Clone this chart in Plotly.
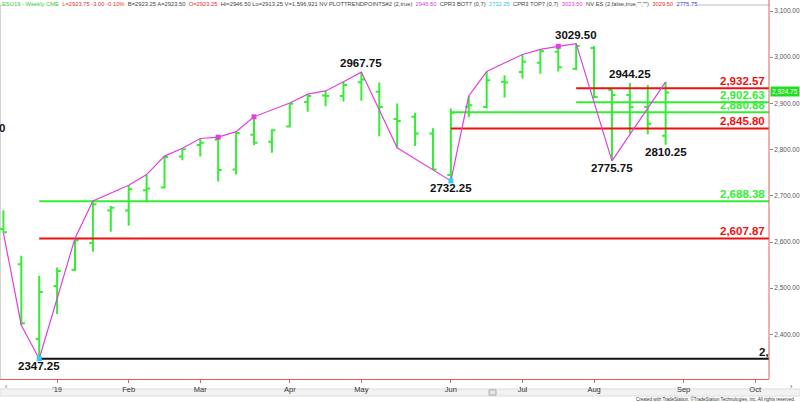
import plotly.graph_objects as go

# ---------------- data ----------------
dates = ["2018-12-14", "2018-12-21", "2018-12-28", "2019-01-04", "2019-01-11", "2019-01-18",
         "2019-01-25", "2019-02-01", "2019-02-08", "2019-02-15", "2019-02-22", "2019-03-01",
         "2019-03-08", "2019-03-15", "2019-03-22", "2019-03-29", "2019-04-05", "2019-04-12",
         "2019-04-19", "2019-04-26", "2019-05-03", "2019-05-10", "2019-05-17", "2019-05-24",
         "2019-05-31", "2019-06-07", "2019-06-14", "2019-06-21", "2019-06-28", "2019-07-05",
         "2019-07-12", "2019-07-19", "2019-07-26", "2019-08-02", "2019-08-09", "2019-08-16",
         "2019-08-23", "2019-08-30"]
opens = [2628, 2552, 2390, 2505, 2540, 2598, 2668, 2668, 2712, 2718, 2785, 2810,
         2822, 2757, 2832, 2817, 2850, 2903, 2917, 2916, 2946, 2925, 2866, 2871,
         2835, 2745, 2893, 2892, 2947, 2968, 2988, 3012, 2975, 3020, 2929, 2918,
         2892, 2830]
highs = [2669, 2570, 2527, 2545, 2608, 2689, 2678, 2723, 2746, 2786, 2803, 2824,
         2827, 2839, 2871, 2844, 2901, 2920, 2927, 2947, 2967.75, 2945, 2900, 2880,
         2846, 2889, 2916, 2969, 2961, 3006, 3017, 3023.5, 3029.5, 3024, 2930, 2944.25,
         2940, 2946.5]
lows = [2620, 2420, 2347.25, 2444, 2537, 2579, 2622, 2635, 2689, 2716, 2777, 2785,
        2731, 2746, 2810, 2793, 2848, 2882, 2894, 2904, 2906, 2829, 2804, 2808,
        2756, 2732.25, 2870, 2889, 2913, 2954, 2964, 2969, 2972, 2911, 2775.75, 2835,
        2833, 2810.25]
closes = [2621, 2424, 2492, 2537, 2604, 2682, 2674, 2714, 2716, 2784, 2801, 2815,
          2756, 2836, 2815, 2842, 2899, 2916, 2916, 2940, 2952, 2892, 2862, 2835,
          2757, 2880, 2896, 2950, 2945, 2990, 3013, 2978, 3024, 2914, 2918, 2892,
          2856, 2923.75]

# zig-zag trend points (date, which extreme)
trend_dates = ["2018-12-14", "2018-12-21", "2018-12-28", "2019-01-11", "2019-01-18", "2019-02-01",
               "2019-02-08", "2019-02-15", "2019-02-22", "2019-03-01", "2019-03-08", "2019-03-15",
               "2019-03-22", "2019-04-05", "2019-04-12", "2019-04-19", "2019-04-26", "2019-05-03",
               "2019-05-17", "2019-05-31", "2019-06-07", "2019-06-14", "2019-06-21", "2019-07-05",
               "2019-07-12", "2019-07-19", "2019-07-26", "2019-08-09", "2019-08-30"]
trend_side = ["L", "L", "L", "H", "H", "H", "H", "H", "H", "H", "H", "H", "H", "H", "H", "H",
              "H", "H", "L", "L", "L", "H", "H", "H", "H", "H", "H", "L", "H"]

top_dot_dates = ["2019-03-08", "2019-03-22", "2019-07-19"]
bot_dot_dates = ["2018-12-28", "2019-06-07"]

level_values = [2932.57, 2902.63, 2880.88, 2845.80, 2688.38, 2607.87]
level_labels = ["2,932.57", "2,902.63", "2,880.88", "2,845.80", "2,688.38", "2,607.87"]
level_starts = ["2019-07-26", "2019-07-26", "2019-06-07", "2019-06-07", "2018-12-28", "2018-12-28"]
level_kind = ["R", "G", "G", "R", "G", "R"]

base_value = 2347.25
base_start = "2018-12-28"

pivot_labels = ["2347.25", "2967.75", "2732.25", "3029.50", "2775.75", "2944.25", "2810.25"]
pivot_dates = ["2018-12-28", "2019-05-03", "2019-06-07", "2019-07-26", "2019-08-09", "2019-08-16", "2019-08-30"]
pivot_side = ["L", "H", "L", "H", "L", "H", "L"]

y_ticks = [2400, 2500, 2600, 2700, 2800, 2900, 3000, 3100]
month_ticks = ["2019-01-04", "2019-02-01", "2019-03-01", "2019-04-05", "2019-05-03", "2019-06-07",
               "2019-07-05", "2019-08-02", "2019-09-06", "2019-10-04"]
month_labels = ["'19", "Feb", "Mar", "Apr", "May", "Jun", "Jul", "Aug", "Sep", "Oct"]

last_price = 2924.75

header_parts = [("ESU19 - Weekly CME", "#33cc33"), ("L=2923.75 -3.00 -0.10%", "#e83030"),
                ("B=2923.25 A=2923.50", "#444444"), ("O=2923.25", "#e83030"),
                ("Hi=2946.50 Lo=2913.25 V=1,596,921 NV PLOTTRENDPOINTS#2 (2,true)", "#444444"),
                ("2946.50", "#e040e0"), ("CPR3 BOT7 (0,7)", "#444444"), ("2732.25", "#30c8e8"),
                ("CPR3 TOP7 (0,7)", "#444444"), ("3023.50", "#e040e0"),
                ('NV ES (2,false,true,"","")', "#444444"), ("3029.50", "#e83030"), ("2775.75", "#3838e0")]

# ---------------- styling ----------------
GREEN = "#33ee33"
RED = "#ee1111"
PINK = "#e040e0"
FONT = "Arial, Liberation Sans, sans-serif"

def val(d, side):
    i = dates.index(d)
    return highs[i] if side == "H" else lows[i]

fig = go.Figure()

# level lines
for v, s, k in zip(level_values, level_starts, level_kind):
    fig.add_trace(go.Scatter(x=[s, "2019-12-31"], y=[v, v], mode="lines",
                             line=dict(color=RED if k == "R" else GREEN, width=2),
                             hoverinfo="skip", showlegend=False))
fig.add_trace(go.Scatter(x=[base_start, "2019-12-31"], y=[base_value, base_value], mode="lines",
                         line=dict(color="#111111", width=2), hoverinfo="skip", showlegend=False))

# price bars
fig.add_trace(go.Ohlc(x=dates, open=opens, high=highs, low=lows, close=closes,
                      increasing=dict(line=dict(color=GREEN, width=2)),
                      decreasing=dict(line=dict(color=GREEN, width=2)),
                      tickwidth=0.2, showlegend=False))

# trend zig-zag
fig.add_trace(go.Scatter(x=trend_dates, y=[val(d, s) for d, s in zip(trend_dates, trend_side)],
                         mode="lines", line=dict(color=PINK, width=1.2),
                         hoverinfo="skip", showlegend=False))

# dots
fig.add_trace(go.Scatter(x=top_dot_dates, y=[val(d, "H") for d in top_dot_dates], mode="markers",
                         marker=dict(color=PINK, size=5, symbol="square"), showlegend=False))
fig.add_trace(go.Scatter(x=bot_dot_dates, y=[val(d, "L") for d in bot_dot_dates], mode="markers",
                         marker=dict(color="#33ccff", size=5, symbol="square"), showlegend=False))

# clipped label at right for base line
fig.add_trace(go.Scatter(x=["2019-10-05 12:00"], y=[base_value], mode="text", text=["<b>2,347.25</b>"],
                         textposition="top right", cliponaxis=True,
                         textfont=dict(family=FONT, size=11.5, color="#111111"),
                         hoverinfo="skip", showlegend=False))

annotations = []
for v, lab, k in zip(level_values, level_labels, level_kind):
    annotations.append(dict(xref="paper", x=1, xanchor="right", xshift=-2, y=v, yanchor="bottom",
                            text="<b>%s</b>" % lab, showarrow=False, yshift=-1,
                            font=dict(family=FONT, size=11.5, color=RED if k == "R" else GREEN)))
for lab, d, s in zip(pivot_labels, pivot_dates, pivot_side):
    annotations.append(dict(x=d, y=val(d, s), text="<b>%s</b>" % lab, showarrow=False,
                            yanchor="bottom" if s == "H" else "top",
                            yshift=1 if s == "H" else 1,
                            font=dict(family=FONT, size=11.5, color="#111111")))
# left clipped remnant
annotations.append(dict(xref="paper", x=0, xanchor="left", xshift=-3, y=2847, yanchor="middle",
                        text="<b>0</b>", showarrow=False,
                        font=dict(family=FONT, size=11.5, color="#111111")))
# last price tag
annotations.append(dict(xref="paper", x=1, xanchor="left", xshift=1, y=last_price, yanchor="middle",
                        text="2,924.75", showarrow=False, bgcolor="#22dd22", borderpad=1,
                        font=dict(family=FONT, size=6.5, color="#ffffff")))
# header
header = "  ".join('<span style="color:%s">%s</span>' % (c, t) for t, c in header_parts)
annotations.append(dict(xref="paper", yref="paper", x=0, xanchor="left", xshift=1, y=1, yanchor="middle",
                        yshift=1, text=header, showarrow=False, bgcolor="#ffffff", borderpad=0,
                        font=dict(family=FONT, size=5.8, color="#444444")))
# footer
annotations.append(dict(xref="paper", yref="paper", x=1.0364, xanchor="right", y=-0.0535, yanchor="middle",
                        text="Created with TradeStation. \u00a9TradeStation Technologies, Inc. All rights reserved.",
                        showarrow=False, font=dict(family=FONT, size=4.5, color="#333333")))
# scrollbar arrows
annotations.append(dict(xref="paper", yref="paper", x=0.004, y=-0.036, text="\u2039", showarrow=False,
                        font=dict(family=FONT, size=7, color="#555555")))
annotations.append(dict(xref="paper", yref="paper", x=1.034, y=-0.036, text="\u203a", showarrow=False,
                        font=dict(family=FONT, size=7, color="#555555")))

shapes = [
    dict(type="line", xref="paper", yref="paper", x0=0, x1=1, y0=1, y1=1, line=dict(color="#bbbbbb", width=1)),
    dict(type="line", xref="paper", yref="paper", x0=0, x1=0, y0=0, y1=1, line=dict(color="#aaaaaa", width=1)),
    dict(type="line", xref="paper", yref="paper", x0=1, x1=1, y0=0, y1=1.0134, line=dict(color="#e06060", width=1)),
    dict(type="rect", xref="paper", yref="paper", x0=0, x1=1.0403, y0=-0.0455, y1=-0.0267,
         line=dict(color="#dddddd", width=1), fillcolor="#f2f2f2", layer="below"),
    dict(type="rect", xref="paper", yref="paper", x0=0.636, x1=0.645, y0=-0.043, y1=-0.029,
         line=dict(color="#aaaaaa", width=1), fillcolor="#e6e6e6"),
]

fig.update_layout(
    width=800, height=402,
    margin=dict(l=0, r=31, t=5, b=23),
    paper_bgcolor="#ffffff", plot_bgcolor="#ffffff",
    showlegend=False,
    annotations=annotations, shapes=shapes,
    xaxis=dict(type="date", range=["2018-12-12 16:00", "2019-10-09 10:00"],
               rangeslider=dict(visible=False),
               tickvals=month_ticks, ticktext=month_labels,
               showgrid=False, zeroline=False, showline=True, linecolor="#e06060", linewidth=1,
               ticks="outside", ticklen=3, tickcolor="#e06060",
               tickfont=dict(family=FONT, size=7.5, color="#333333")),
    yaxis=dict(side="right", range=[2303.5, 3113], tickvals=y_ticks, tickformat=",.2f",
               showgrid=False, zeroline=False, showline=False,
               ticks="outside", ticklen=3, tickcolor="#888888",
               tickfont=dict(family=FONT, size=6.5, color="#555555")),
)

fig.write_html("out.html", config={"displayModeBar": False},
               post_script="document.body.style.margin='0px';document.body.style.overflow='hidden';")
